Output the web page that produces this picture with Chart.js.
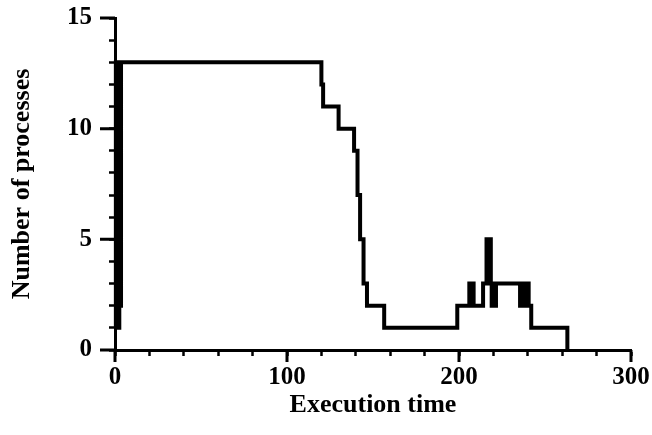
<!DOCTYPE html>
<html>
<head>
<meta charset="utf-8">
<script src="https://cdn.jsdelivr.net/npm/chart.js@4"></script>
<style>
  html, body { margin: 0; padding: 0; background: #fff; }
  #wrap { width: 652px; height: 435px; }
</style>
</head>
<body>
<div id="wrap"><canvas id="c" width="652" height="435"></canvas></div>
<script>
// Step series: count of processes from each time onward
const times = [0, 0.5, 1, 1.5, 2, 2.5, 3, 3.5, 120, 121, 130, 139, 141, 142.5, 144.5, 146.5, 156.5,
  199, 206, 206.5, 207, 207.5, 208, 208.5, 214,
  216, 216.5, 217, 217.5, 218, 218.5, 219, 219.5, 220, 220.5, 221, 221.5,
  235.5, 236, 236.5, 237, 237.5, 238, 238.5, 239, 239.5, 240, 240.5, 242, 263];
const counts = [1, 13, 1, 13, 1, 13, 2, 13, 12, 11, 10, 9, 7, 5, 3, 2, 1,
  2, 3, 2, 3, 2, 3, 2, 3,
  5, 3, 5, 3, 5, 3, 2, 3, 2, 3, 2, 3,
  2, 3, 2, 3, 2, 3, 2, 3, 2, 3, 2, 1, 0];
const xMajorTicks = [0, 100, 200, 300];
const yMajorTicks = [0, 5, 10, 15];

const points = times.map((t, i) => ({ x: t, y: counts[i] }));

const majorTickPlugin = {
  id: 'majorTicks',
  afterDraw(chart) {
    const ctx = chart.ctx, xs = chart.scales.x, ys = chart.scales.y;
    const a = chart.chartArea;
    ctx.save();
    ctx.strokeStyle = '#000';
    ctx.lineWidth = 3;
    ctx.beginPath();
    xMajorTicks.forEach(v => {
      const px = xs.getPixelForValue(v);
      ctx.moveTo(px, a.bottom);
      ctx.lineTo(px, a.bottom + 12);
    });
    yMajorTicks.forEach(v => {
      const py = ys.getPixelForValue(v);
      ctx.moveTo(a.left, py);
      ctx.lineTo(a.left - 15, py);
    });
    ctx.stroke();
    ctx.restore();
  }
};

const serif = "'Liberation Serif', 'DejaVu Serif', serif";

new Chart(document.getElementById('c'), {
  type: 'scatter',
  data: {
    datasets: [{
      data: points,
      showLine: true,
      stepped: 'before',
      borderColor: '#000',
      borderWidth: 4,
      pointRadius: 0,
      fill: false,
      clip: false
    }]
  },
  options: {
    responsive: false,
    animation: false,
    layout: { padding: { left: 7, right: 21, top: 18, bottom: 14 } },
    plugins: { legend: { display: false }, tooltip: { enabled: false } },
    scales: {
      x: {
        type: 'linear',
        min: 0, max: 300,
        border: { color: '#000', width: 3 },
        grid: { drawOnChartArea: false, drawTicks: true, tickLength: 6, tickColor: '#000', tickWidth: 2.5 },
        ticks: {
          stepSize: 20, autoSkip: false, maxRotation: 0, padding: 7,
          color: '#000',
          font: { family: serif, size: 25, weight: 'bold' },
          callback: v => (xMajorTicks.includes(v) ? String(v) : '')
        },
        title: {
          display: true, text: 'Execution time', color: '#000',
          font: { family: serif, size: 26, weight: 'bold' },
          padding: { top: 4, bottom: 0 }
        },
        afterFit(s) { s.height = 71; s.paddingLeft = 0; s.paddingRight = 0; }
      },
      y: {
        type: 'linear',
        min: 0, max: 15,
        border: { color: '#000', width: 3 },
        grid: { drawOnChartArea: false, drawTicks: true, tickLength: 6, tickColor: '#000', tickWidth: 2.5 },
        ticks: {
          stepSize: 1, autoSkip: false, padding: 17,
          color: '#000',
          font: { family: serif, size: 25, weight: 'bold' },
          callback: v => (yMajorTicks.includes(v) ? String(v) : '')
        },
        title: {
          display: true, text: 'Number of processes', color: '#000',
          font: { family: serif, size: 26, weight: 'bold' },
          padding: { top: 0, bottom: 0 }
        },
        afterFit(s) { s.width = 108; s.paddingTop = 0; s.paddingBottom = 0; }
      }
    }
  },
  plugins: [majorTickPlugin]
});
</script>
</body>
</html>
